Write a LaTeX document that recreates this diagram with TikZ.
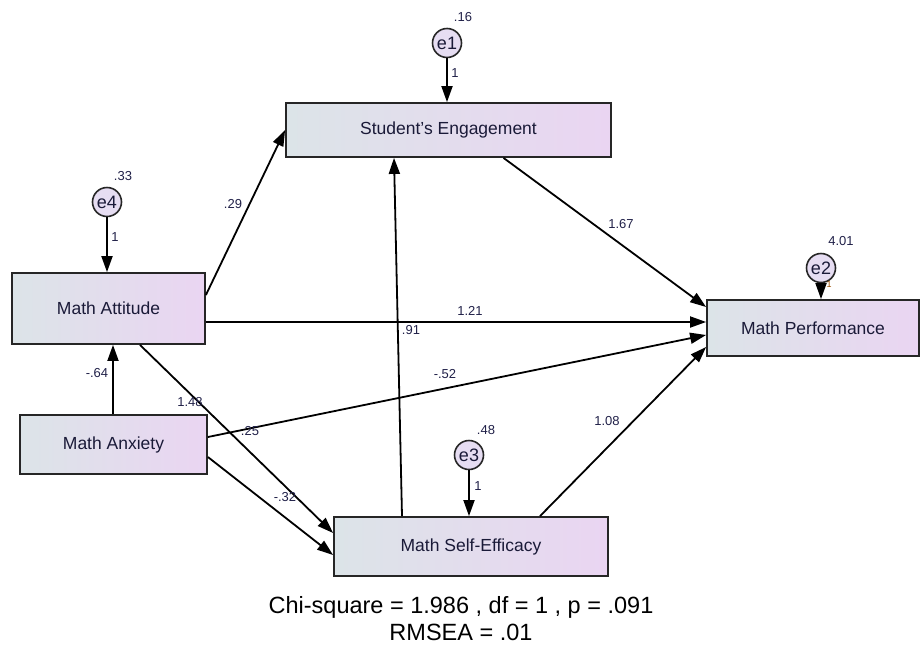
\documentclass[tikz,border=0pt]{standalone}
\usepackage{fontspec}
\setmainfont{Liberation Sans}
\usetikzlibrary{arrows.meta,calc}
\definecolor{boxL}{HTML}{DCE4E8}
\definecolor{boxR}{HTML}{EAD5F2}
\definecolor{circF}{HTML}{E6DDF2}
\definecolor{txt}{HTML}{1A1A38}
\definecolor{lab}{HTML}{202048}
\tikzset{
  varbox/.style={draw=black!85,line width=1.8pt,left color=boxL,right color=boxR,
    inner sep=0pt,text=txt,font=\fontsize{17.5}{20}\selectfont},
  errc/.style={circle,draw=black!85,line width=1.6pt,fill=circF,minimum size=29pt,
    inner sep=0pt,text=txt,font=\fontsize{18}{20}\selectfont},
  conn/.style={line width=1.8pt,-{Triangle[length=16pt,width=11pt]}},
  lbl/.style={text=lab,font=\fontsize{13}{15}\selectfont,inner sep=0pt}
}
\begin{document}
\begin{tikzpicture}[x=1pt,y=-1pt]
\useasboundingbox (0,0) rectangle (921,646);
% boxes
\node[varbox,minimum width=325pt,minimum height=54pt] (SE) at (448.5,130) {Student's Engagement};
\node[varbox,minimum width=193pt,minimum height=71pt] (MA) at (108.5,308.5) {Math Attitude};
\node[varbox,minimum width=187pt,minimum height=59pt] (MX) at (113.5,444.5) {Math Anxiety};
\node[varbox,minimum width=274pt,minimum height=59pt] (MS) at (471,546.5) {Math Self-Efficacy};
\node[varbox,minimum width=212pt,minimum height=56pt] (MP) at (813,328) {Math Performance};
% error circles
\node[errc] (e1) at (447,43) {e1};
\node[errc] (e4) at (107,202) {e4};
\node[errc] (e3) at (469,455) {e3};
\node[errc] (e2) at (821,268) {e2};
% error arrows
\draw[conn] (e1) -- (e1 |- SE.north);
\draw[conn] (e4) -- (e4 |- MA.north);
\draw[conn] (e3) -- (e3 |- MS.north);
\draw[conn] (e2) -- (e2 |- MP.north);
% paths
\draw[conn] ([yshift=13.5pt]MA.east) -- (SE.west);
\draw[conn] ([yshift=-13.5pt]MA.east) -- ([yshift=6pt]MP.west);
\draw[conn] ([xshift=31.5pt]MA.south) -- ([yshift=13.5pt]MS.west);
\draw[conn] ([xshift=-0.5pt]MX.north) -- ([xshift=-0.5pt]MX.north |- MA.south);
\draw[conn] ([yshift=7.5pt]MX.east) -- ([yshift=-7pt]MP.west);
\draw[conn] ([yshift=-12.5pt]MX.east) -- ([yshift=-8.5pt]MS.west);
\draw[conn] ([xshift=-69pt]MS.north) -- ([xshift=-54.5pt]SE.south);
\draw[conn] ([xshift=55pt]SE.south) -- ([yshift=21pt]MP.west);
\draw[conn] ([xshift=69pt]MS.north) -- ([yshift=-19pt]MP.west);
% labels
\node[lbl] (l16) at (463,17) {.16};
\node[lbl] (l1a) at (455,73) {1};
\node[lbl] (l33) at (123,176) {.33};
\node[lbl] (l1b) at (115,237) {1};
\node[lbl] (l29) at (233,204) {.29};
\node[lbl] (l64) at (97,373) {-.64};
\node[lbl] (l148) at (190,402) {1.48};
\node[lbl] (l25) at (250,431) {.25};
\node[lbl] (l167) at (621,224) {1.67};
\node[lbl] (l121) at (470,311) {1.21};
\node[lbl] (l91) at (411,330) {.91};
\node[lbl] (l52) at (445,374) {-.52};
\node[lbl] (l401) at (841,241) {4.01};
\node[lbl,font=\fontsize{9}{10}\selectfont,text=orange!60!black] (l1c) at (829,284) {1};
\node[lbl] (l48) at (486,430) {.48};
\node[lbl] (l1d) at (478,486) {1};
\node[lbl] (l108) at (607,421) {1.08};
\node[lbl] (l32) at (285,497) {-.32};
% fit
\node[font=\fontsize{23.5}{24}\selectfont,align=center,inner sep=0pt] (fit1) at (461,607) {Chi-square = 1.986 , df = 1 , p = .091};
\node[font=\fontsize{23.5}{24}\selectfont,inner sep=0pt] (fit2) at (461,632) {RMSEA = .01};
\end{tikzpicture}
\end{document}
